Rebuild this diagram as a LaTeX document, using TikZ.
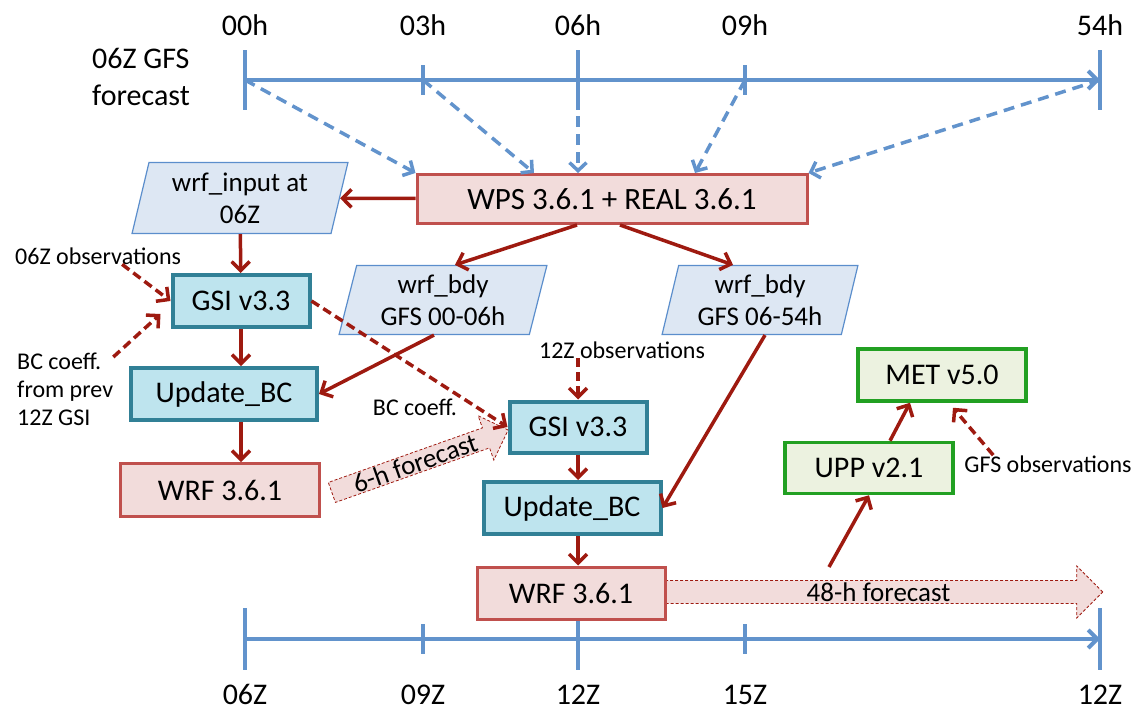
\documentclass[tikz,border=0pt]{standalone}
\usepackage{fontspec}
\setmainfont{Carlito}
\usetikzlibrary{arrows.meta,shapes.geometric,shapes.arrows}
\definecolor{axisblue}{RGB}{98,147,204}
\definecolor{flowred}{RGB}{158,26,16}
\definecolor{wrffill}{RGB}{242,220,219}
\definecolor{wrfline}{RGB}{192,80,77}
\definecolor{gsifill}{RGB}{190,228,238}
\definecolor{gsiline}{RGB}{49,128,150}
\definecolor{datafill}{RGB}{221,231,243}
\definecolor{dataline}{RGB}{91,142,204}
\definecolor{postfill}{RGB}{236,242,224}
\definecolor{postline}{RGB}{34,160,34}
\tikzset{
  axis/.style={draw=axisblue, line width=4pt},
  feed/.style={draw=axisblue, line width=3.5pt, dash pattern={on 11pt off 7pt}, -{Straight Barb[length=8pt,width=17pt]}},
  flow/.style={draw=flowred, line width=3.5pt, -{Straight Barb[length=9pt,width=18pt]}},
  obsflow/.style={flow, dash pattern={on 9pt off 5pt}},
  wrfbox/.style={draw=wrfline, fill=wrffill, line width=3pt, inner sep=0pt, font=\fontsize{30}{36}\selectfont},
  gsibox/.style={draw=gsiline, fill=gsifill, line width=4pt, inner sep=0pt, font=\fontsize{30}{36}\selectfont},
  postbox/.style={draw=postline, fill=postfill, line width=3.5pt, inner sep=0pt, font=\fontsize{30}{36}\selectfont},
  databox/.style={trapezium, trapezium left angle=76, trapezium right angle=104, trapezium stretches=true,
    draw=dataline, fill=datafill, line width=1.2pt, inner sep=0pt, align=center, font=\fontsize{27}{32}\selectfont},
  fcarrow/.style={single arrow, draw=flowred, fill=wrffill, line width=0.8pt, dash pattern={on 3pt off 2pt},
    inner sep=0pt, font=\fontsize{27}{30}\selectfont},
  note/.style={inner sep=0pt, font=\fontsize{24}{28}\selectfont},
  hourlabel/.style={inner sep=0pt, anchor=base, font=\fontsize{30}{37}\selectfont}
}
\begin{document}
\begin{tikzpicture}[x=1pt,y=1pt,yscale=-1]
\useasboundingbox (0,0) rectangle (1135,712);
\draw [axis, -{Straight Barb[length=9pt,width=18pt]}] (245,80) -- (1100,80);
\foreach \x/\h/\lab [count=\i] in {245/30/00h, 423/15/03h, 578/30/06h, 745/15/09h, 1100/30/54h} {
  \draw [axis] (\x,80-\h) -- (\x,80+\h);
  \coordinate (top\i) at (\x,80);
  \node [hourlabel] (hour\i) at (\x,35) {\lab};
}
\node [hourlabel, align=left, anchor=north west] (gfsfc) at (92,48) {06Z GFS\\forecast};
\draw [axis, -{Straight Barb[length=9pt,width=18pt]}] (245,639) -- (1100,639);
\foreach \x/\h/\lab [count=\i] in {245/31/06Z, 423/15/09Z, 578/31/12Z, 745/15/15Z, 1100/31/12Z} {
  \draw [axis] (\x,639-\h) -- (\x,639+\h);
  \node [hourlabel] (zulu\i) at (\x,704) {\lab};
}
\node [wrfbox, minimum width=390pt, minimum height=49pt, font=\fontsize{31}{36}\selectfont] (wps) at (612,199) {WPS 3.6.1 + REAL 3.6.1};
\node [databox, minimum width=216pt, minimum height=71pt] (winput) at (240,198) {wrf\_input at\\06Z};
\node [gsibox, minimum width=137pt, minimum height=52pt] (gsiA) at (241,301) {GSI v3.3};
\node [gsibox, minimum width=186pt, minimum height=52pt] (updA) at (224,394) {Update\_BC};
\node [wrfbox, minimum width=199pt, minimum height=53pt] (wrfA) at (220,490) {WRF 3.6.1};
\node [databox, minimum width=208pt, minimum height=69pt] (bdyA) at (443,300) {wrf\_bdy\\GFS 00-06h};
\node [databox, minimum width=196pt, minimum height=69pt] (bdyB) at (760,300) {wrf\_bdy\\GFS 06-54h};
\node [gsibox, minimum width=137pt, minimum height=51pt] (gsiB) at (578,427) {GSI v3.3};
\node [gsibox, minimum width=177pt, minimum height=52pt] (updB) at (572,508) {Update\_BC};
\node [fcarrow, minimum height=437pt, minimum width=52pt, single arrow head extend=12.5pt] (fcB) at (878.5,592) {48-h forecast};
\node [wrfbox, minimum width=188pt, minimum height=52pt] (wrfB) at (571,593) {WRF 3.6.1};
\node [postbox, minimum width=168pt, minimum height=51pt] (upp) at (869,468) {UPP v2.1};
\node [postbox, minimum width=168pt, minimum height=52pt] (met) at (942,375) {MET v5.0};
\node [fcarrow, rotate=19.5, minimum height=187pt, minimum width=47pt, single arrow head extend=12pt] (fcA) at (415,463) {6-h forecast};
\node [note, anchor=base west] (obsA) at (15,264) {06Z observations};
\node [note, anchor=north west, align=left] (bcprev) at (17,353) {BC coeff.\\from prev\\12Z GSI};
\node [note, anchor=base] (obsB) at (622,358) {12Z observations};
\node [note, anchor=base] (bccoeff) at (415,415) {BC coeff.};
\node [note, anchor=base] (gfsobs) at (1048,472) {GFS observations};
\coordinate (fcout) at (829,567);
\draw [feed] (top1) -- (wps.north west);
\draw [feed] (top2) -- ([xshift=-78pt]wps.north);
\draw [feed] (top3) -- ([xshift=-34pt]wps.north);
\draw [feed] (top4) -- ([xshift=83pt]wps.north);
\draw [feed] (top5) -- (wps.north east);
\draw [flow] (wps) -- (winput);
\draw [flow] ([xshift=-35pt]wps.south) -- ([xshift=12pt]bdyA.north);
\draw [flow] ([xshift=8pt]wps.south) -- ([xshift=-27pt]bdyB.north);
\draw [flow] (winput) -- (gsiA);
\draw [flow] (gsiA.south) -- (gsiA.south |- updA.north);
\draw [flow] (gsiA.south |- updA.south) -- (gsiA.south |- wrfA.north);
\draw [flow] ([xshift=-9pt]bdyA.south) -- (updA.east);
\draw [obsflow] (gsiA.east) -- (gsiB.west);
\draw [obsflow] ([xshift=24pt]obsA.south) -- (gsiA.west);
\draw [obsflow] ([yshift=4pt]bcprev.north east) -- ([xshift=-10pt,yshift=-15pt]gsiA.south west);
\draw [obsflow] ([xshift=-44pt]obsB.south) -- (gsiB.north);
\draw [flow] (gsiB.south) -- (gsiB.south |- updB.north);
\draw [flow] (gsiB.south |- updB.south) -- (gsiB.south |- wrfB.north);
\draw [flow] ([xshift=5pt]bdyB.south) -- (updB.east);
\draw [flow] (fcout) -- (upp.south);
\draw [flow] ([xshift=21pt]upp.north) -- ([xshift=-32pt]met.south);
\draw [obsflow] ([xshift=29pt]gfsobs.north west) -- ([xshift=11pt,yshift=5pt]met.south);
\end{tikzpicture}
\end{document}
